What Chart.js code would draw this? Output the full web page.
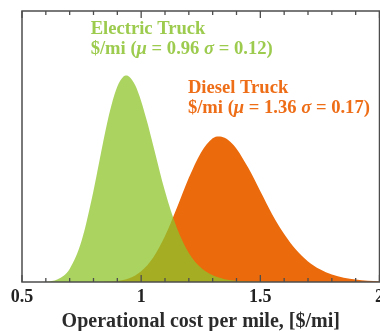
<!DOCTYPE html>
<html>
<head>
<meta charset="utf-8">
<script src="https://cdn.jsdelivr.net/npm/chart.js@4.4.1/dist/chart.umd.min.js"></script>
<style>
html,body{margin:0;padding:0;background:#fff;overflow:hidden;}
#wrap{position:relative;width:390px;height:331px;}
</style>
</head>
<body>
<div id="wrap"><canvas id="costChart"></canvas></div>
<script>

/* ============================= */
/* DATA    */
/* ============================= */

const electricX = [0.5,0.55,0.6,0.65,0.7,0.75,0.8,0.825,0.85,0.875,0.9,0.925,0.9375,0.95,0.975,1.0,1.025,1.05,1.1,1.15,1.2,1.25,1.3,1.35,1.4,1.45,1.5,1.55,1.6,1.7,1.8,1.9,2.0]
const electricY = [0,0,0.005,0.044,0.214,0.676,1.50,1.99,2.48,2.90,3.21,3.37,3.39,3.37,3.23,2.97,2.63,2.25,1.49,0.887,0.478,0.237,0.109,0.047,0.019,0.007,0.003,0,0,0,0,0,0]

const dieselX = [0.5,0.6,0.7,0.8,0.85,0.9,0.95,1.0,1.05,1.1,1.15,1.2,1.25,1.3,1.325,1.35,1.375,1.4,1.45,1.5,1.55,1.6,1.65,1.7,1.75,1.8,1.85,1.9,1.95,2.0]
const dieselY = [0,0,0,0,0.004,0.018,0.063,0.177,0.400,0.756,1.22,1.71,2.12,2.36,2.39,2.37,2.30,2.19,1.87,1.49,1.11,0.787,0.528,0.338,0.208,0.123,0.070,0.039,0.021,0.011]

// label text, split so the greek letters can be set in italics: [text, italic]
const electricLabel = [
  [["Electric Truck",false]],
  [["$/mi (",false],["μ",true],[" = 0.96 ",false],["σ",true],[" = 0.12)",false]]
]
const dieselLabel = [
  [["Diesel Truck",false]],
  [["$/mi (",false],["μ",true],[" = 1.36 ",false],["σ",true],[" = 0.17)",false]]
]

const xTickLabels = ["0.5","1","1.5","2"]

function toPoints(xs, ys){
  return xs.map((x,i)=>({x:x, y:ys[i]}))
}

const SERIF = "'Liberation Serif','Times New Roman',serif"

/* ============================= */
/* FRAME + INWARD TICKS          */
/* ============================= */

const framePlugin = {
  id:"frame",
  afterDatasetsDraw(chart){
    const ctx = chart.ctx
    const a = chart.chartArea
    const xs = chart.scales.x
    ctx.save()
    ctx.strokeStyle = "#4d4d4d"
    ctx.lineWidth = 1.5
    ctx.strokeRect(a.left, a.top, a.right - a.left, a.bottom - a.top)
    ctx.lineWidth = 1.3
    xs.ticks.forEach(t=>{
      const px = xs.getPixelForValue(t.value)
      const major = t.label !== ""
      const len = major ? 7 : 4
      ctx.beginPath()
      ctx.moveTo(px, a.bottom)
      ctx.lineTo(px, a.bottom - len)
      ctx.moveTo(px, a.top)
      ctx.lineTo(px, a.top + len)
      ctx.stroke()
    })
    ctx.restore()
  }
}

/* ============================= */
/* TEXT LABELS                   */
/* ============================= */

const labelPlugin = {
  id:"labels",
  afterDatasetsDraw(chart){
    const ctx = chart.ctx
    const xs = chart.scales.x
    const ys = chart.scales.y
    const blocks = [
      {lines:electricLabel, x:0.788, y:4.15, color:"#9ccb4e"},
      {lines:dieselLabel, x:1.196, y:3.19, color:"#ee6d17"}
    ]
    ctx.save()
    ctx.textBaseline = "middle"
    ctx.textAlign = "left"
    blocks.forEach(b=>{
      const px = xs.getPixelForValue(b.x)
      const py = ys.getPixelForValue(b.y)
      ctx.fillStyle = b.color
      b.lines.forEach((segs,j)=>{
        let cx = px
        segs.forEach(([txt,it])=>{
          ctx.font = (it ? "italic bold " : "bold ") + "18.6px " + SERIF
          ctx.fillText(txt, cx, py + j*20)
          cx += ctx.measureText(txt).width
        })
      })
    })
    ctx.restore()
  }
}

/* ============================= */
/* CHART                         */
/* ============================= */

const costChart = new Chart(
document.getElementById("costChart"),
{
type:"line",

data:{
datasets:[
{
label:"Electric Truck",
data:toPoints(electricX, electricY),
borderColor:"rgba(141,196,41,0.75)",
backgroundColor:"rgba(141,196,41,0.75)",
borderWidth:0,
pointRadius:0,
fill:"origin",
cubicInterpolationMode:"monotone",
order:0
},
{
label:"Diesel Truck",
data:toPoints(dieselX, dieselY),
borderColor:"#ea6a0c",
backgroundColor:"#ea6a0c",
borderWidth:0,
pointRadius:0,
fill:"origin",
cubicInterpolationMode:"monotone",
order:1
}
]
},

options:{
animation:false,
responsive:true,
maintainAspectRatio:false,
layout:{
padding:{left:22, top:11, right:0, bottom:0}
},
plugins:{
legend:{display:false},
tooltip:{enabled:false}
},
scales:{
x:{
type:"linear",
min:0.5,
max:2,
grid:{display:false, drawTicks:false},
border:{display:false},
ticks:{
stepSize:0.1,
autoSkip:false,
maxRotation:0,
padding:6,
color:"#222",
font:{family:SERIF, size:18, weight:"bold", lineHeight:1},
callback:(v)=>{
const s = String(Math.round(v*10)/10)
return xTickLabels.includes(s) ? s : ""
}
},
title:{
display:true,
text:"Operational cost per mile, [$/mi]",
color:"#2b2b2b",
padding:{top:0, bottom:0},
font:{family:SERIF, size:20, weight:"bold", lineHeight:0.95}
}
},
y:{
display:false,
min:0,
max:4.45
}
}
},

plugins:[framePlugin, labelPlugin]
});

</script>
</body>
</html>
